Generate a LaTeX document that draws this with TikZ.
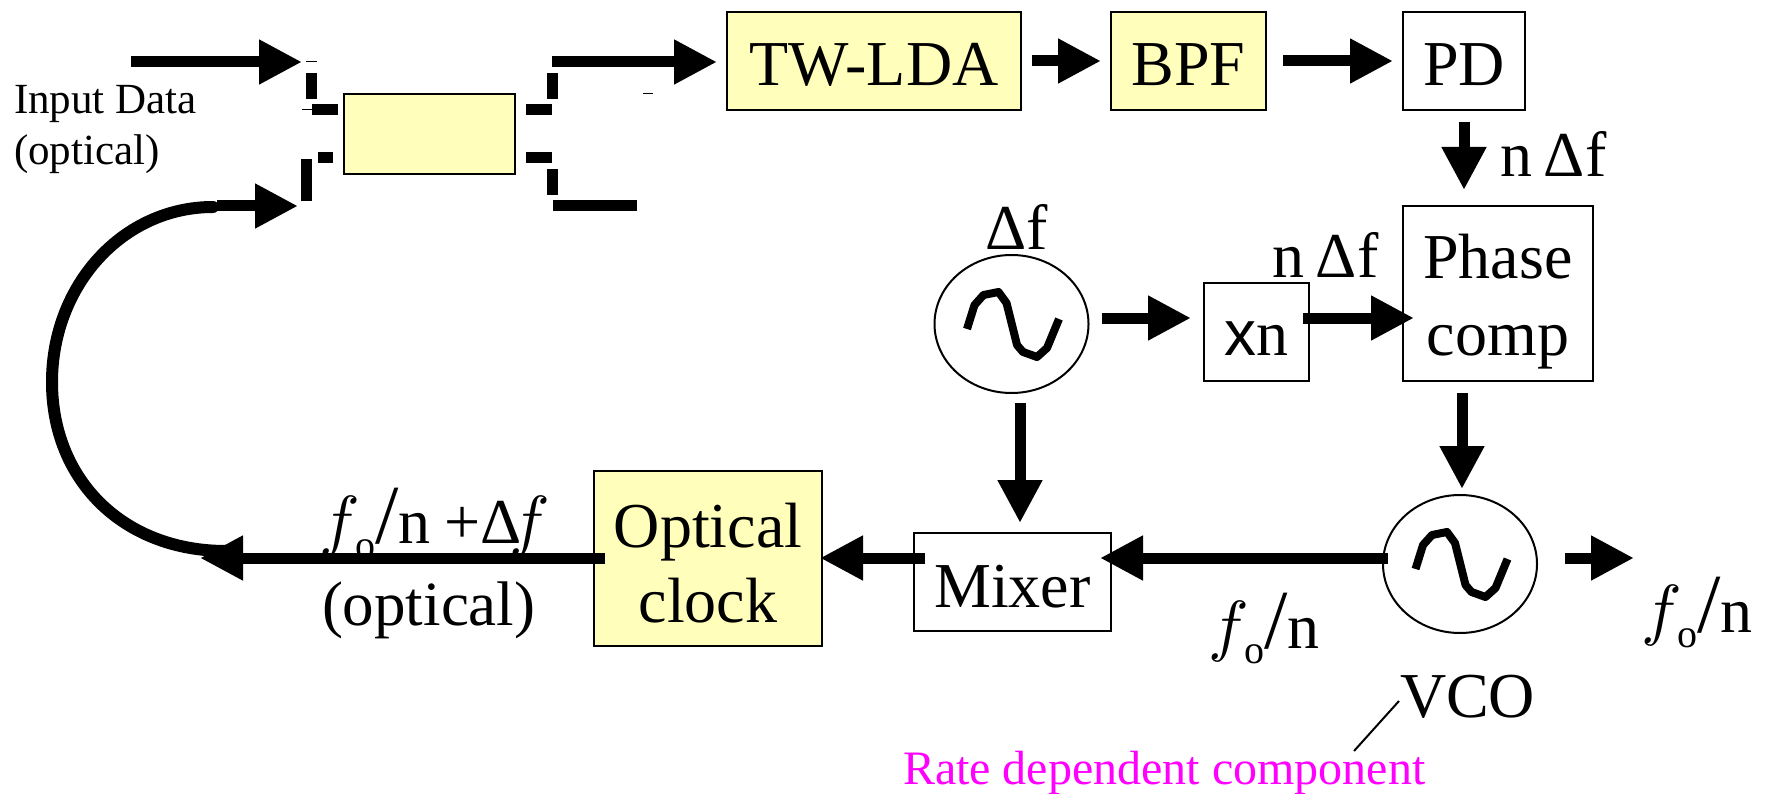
\documentclass[tikz,border=0pt]{standalone}
\usepackage{fontspec}
\setmainfont{Liberation Serif}
\newfontfamily\arialf{Liberation Sans}
\usetikzlibrary{arrows.meta,shapes.geometric}
\newcommand\fsz[1]{\fontsize{#1}{#1}\selectfont}
\newcommand\itf{\scalebox{6.8}{\fsz{10}$f$}\kern-4.6pt}
\newcommand\fon{\itf\raisebox{-15pt}{\fsz{40}o}{\fsz{84}/}n}
\definecolor{boxyellow}{HTML}{FFFFBB}
\definecolor{ratepink}{HTML}{FF00FF}
\tikzset{
  x=1pt,y=-1pt,
  every node/.style={inner sep=0pt,outer sep=0pt},
  lab/.style={font=\fsz{64},anchor=base},
  labw/.style={font=\fsz{64},anchor=base west},
  box/.style={draw=black,line width=2pt,font=\fsz{64},align=center},
  ybox/.style={box,fill=boxyellow},
  osc/.style={draw=black,line width=2pt,ellipse,minimum width=154pt,minimum height=138pt},
  arr/.style={draw=black,line width=11pt,-{Triangle[length=43pt,width=42pt]}},
  bar/.style={draw=black,line width=11pt},
  hair/.style={draw=black,line width=1pt},
  wave/.style={draw=black,line width=8pt,line join=round},
}
\begin{document}
\begin{tikzpicture}
\useasboundingbox (0,0) rectangle (1769,794);
% boxes
\node[ybox,minimum width=294pt,text height=74pt,text depth=24pt] (tw) at (874,61) {TW-LDA};
\node[ybox,minimum width=155pt,text height=74pt,text depth=24pt] (bpf) at (1188.5,61) {BPF};
\node[box,minimum width=122pt,text height=74pt,text depth=24pt] (pd) at (1464,61) {PD};
\node[box,minimum width=190pt,minimum height=175pt,font=\fontsize{64}{77}\selectfont] (pc) at (1498,293.5) {\rule{0pt}{60pt}Phase\\comp};
\node[box,minimum width=105pt,text height=72pt,text depth=26pt] (xn) at (1256,332) {{\arialf x}n};
\node[ybox,minimum width=228pt,minimum height=175pt,font=\fontsize{64}{75}\selectfont] (oc) at (708,558.5) {\rule{0pt}{53pt}Optical\\clock};
\node[box,minimum width=197pt,text height=74pt,text depth=24pt] (mx) at (1012.5,582) {Mixer};
\node[ybox,minimum width=171pt,minimum height=80pt] (cp) at (429,134) {};
% oscillators
\node[osc] (o1) at (1011.5,324) {};
\node[osc] (o2) at (1460,564) {};
\foreach \c in {o1,o2}{
  \begin{scope}[shift={(\c.center)}]
    \draw[wave] (-44.5,5) -- (-37,-19) -- (-28,-29) -- (-13,-32) -- (-5,-21) -- (5.5,21) -- (11.5,28) -- (25.5,33) -- (35.5,24) -- (47.5,-5);
  \end{scope}
}
% labels
\node[font=\fsz{43},anchor=base west] (in1) at (14,114) {Input Data};
\node[font=\fsz{43},anchor=base west] (in2) at (14,165) {(optical)};
\node[labw] (nf1) at (1500,177) {n\kern12pt Δf};
\node[labw] (nf2) at (1272,278) {n\kern12pt Δf};
\node[labw] (df) at (985,250) {Δf};
\node[labw] (lf) at (319,543) {\fon\kern14pt+Δ\kern-12pt\itf};
\node[font=\fsz{63},anchor=base west] (lo) at (322,625) {(optical)};
\node[labw] (mf) at (1208,648) {\fon};
\node[labw] (rf) at (1641,632) {\fon};
\node[labw] (vco) at (1400,717) {VCO};
\node[font=\fsz{48},text=ratepink,anchor=base west] (rd) at (903,784) {Rate dependent component};
\draw[black,line width=2pt] (1399,701) -- (1354,751);
% coupler stubs
\draw[hair] (306,62) -- (317,62);
\draw[hair] (302,110) -- (312,110);
\draw[hair] (643,94) -- (653,94);
\draw[bar] (311.5,73) -- (311.5,99);
\draw[bar] (312,110) -- (338,110);
\draw[bar] (318,158) -- (333,158);
\draw[bar] (306,159) -- (306,201);
\draw[bar] (526,110) -- (552,110);
\draw[bar] (552,73) -- (552,99);
\draw[bar] (526,158) -- (552,158);
\draw[bar] (552,169) -- (552,195);
\draw[bar] (553,206) -- (637,206);
% connectors
\coordinate (inS) at (131,62);
\coordinate (inE) at (302,62);
\coordinate (outS) at (552,62);
\coordinate (loopA) at (213,207);
\coordinate (loopB) at (52,382);
\coordinate (loopC) at (226,551);
\coordinate (fbS) at (217,206);
\coordinate (fbE) at (298,206);
\coordinate (vS) at (1565,558);
\coordinate (vE) at (1634,558);
\draw[arr] (inS) -- (inE);
\draw[arr] (outS) -- ([xshift=-10pt]tw.west |- outS);
\draw[arr] ([xshift=11pt]tw.east) -- ([xshift=-10pt]bpf.west);
\draw[arr] ([xshift=17pt]bpf.east) -- ([xshift=-10pt]pd.west);
\draw[arr] ([yshift=-12pt]pd.south) -- ([yshift=16pt]pd.south |- pc.north);
\draw[arr] (1102,318) -- (1191,318);
\draw[arr] (1303,318) -- (1414,318);
\draw[arr] (1020,403) -- (1020,523);
\draw[arr] (1462,393) -- (1462,489);
\draw[arr] (1388,558) -- (1100,558);
\draw[arr] (925,558) -- (820,558);
\draw[arr] (605,558) -- (200,558);
\draw[arr] (vS) -- (vE);
\draw[arr] (fbS) -- (fbE);
\draw[black,line width=12pt,line cap=round] (loopA) .. controls (123,207) and (52,285) .. (loopB) .. controls (52,480) and (123,551) .. (loopC);
\end{tikzpicture}
\end{document}
